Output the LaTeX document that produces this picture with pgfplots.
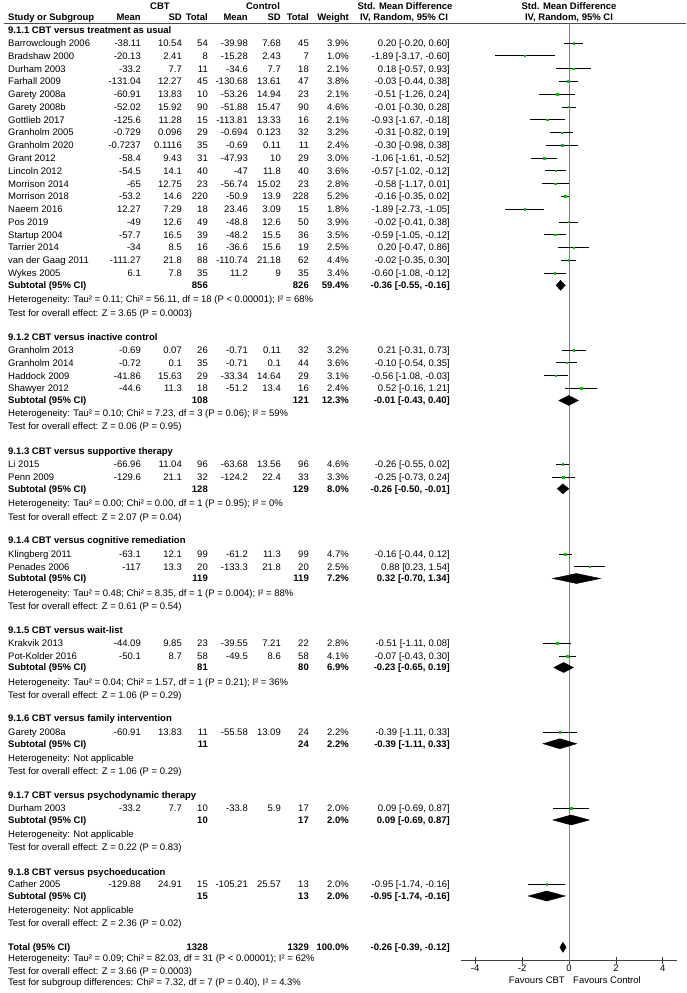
\documentclass[border=0pt]{standalone}
\usepackage{fontspec}
\setmainfont{Liberation Sans}
\usepackage{pgfplots}
\usepackage{pgfplotstable}
\pgfplotsset{compat=1.18}

\definecolor{sqgreen}{RGB}{0,200,0}

% study rows: y (row position, negative downwards), SMD and 95% CI
\pgfplotstableread{
y smd lo hi
-43.0 0.20 -0.20 0.60
-55.8 -1.89 -3.17 -0.60
-68.6 0.18 -0.57 0.93
-81.3 -0.03 -0.44 0.38
-94.1 -0.51 -1.26 0.24
-106.9 -0.01 -0.30 0.28
-119.7 -0.93 -1.67 -0.18
-132.5 -0.31 -0.82 0.19
-145.2 -0.30 -0.98 0.38
-158.0 -1.06 -1.61 -0.52
-170.8 -0.57 -1.02 -0.12
-183.6 -0.58 -1.17 0.01
-196.4 -0.16 -0.35 0.02
-209.1 -1.89 -2.73 -1.05
-221.9 -0.02 -0.41 0.38
-234.7 -0.59 -1.05 -0.12
-247.5 0.20 -0.47 0.86
-260.3 -0.02 -0.35 0.30
-273.0 -0.60 -1.08 -0.12
-350.0 0.21 -0.31 0.73
-362.8 -0.10 -0.54 0.35
-375.6 -0.56 -1.08 -0.03
-388.4 0.52 -0.16 1.21
-464.3 -0.26 -0.55 0.02
-477.0 -0.25 -0.73 0.24
-554.0 -0.16 -0.44 0.12
-566.7 0.88 0.23 1.54
-643.3 -0.51 -1.11 0.08
-656.0 -0.07 -0.43 0.30
-732.0 -0.39 -1.11 0.33
-808.3 0.09 -0.69 0.87
-884.2 -0.95 -1.74 -0.16
}\studies

\newcommand\rowy{}
\newcommand\srow[9]{%
  \def\rowy{#1}%
  \node[txt,anchor=west] at (8,\rowy) {#2};
  \node[txt,anchor=east] at (141,\rowy) {#3};
  \node[txt,anchor=east] at (182,\rowy) {#4};
  \node[txt,anchor=east] at (208,\rowy) {#5};
  \node[txt,anchor=east] at (248,\rowy) {#6};
  \node[txt,anchor=east] at (281,\rowy) {#7};
  \node[txt,anchor=east] at (309,\rowy) {#8};
  \node[txt,anchor=east] at (349,\rowy) {#9};
  \srowci}
\newcommand\srowci[1]{\node[txt,anchor=east] at (450,\rowy) {#1};}
\newcommand\subrow[5]{%
  \node[hd,anchor=west] at (8,#1) {#2};
  \node[hd,anchor=east] at (208,#1) {#3};
  \node[hd,anchor=east] at (309,#1) {#4};
  \subrowb{#1}{#5}}
\newcommand\subrowb[3]{%
  \node[hd,anchor=east] at (349,#1) {#2};
  \node[hd,anchor=east] at (450,#1) {#3};}
\newcommand\grp[2]{\node[hd,anchor=west] at (8,#1) {#2};}
\newcommand\note[2]{\node[txt,anchor=west] at (8,#1) {#2};}

\begin{document}
\begin{tikzpicture}[
  txt/.style={font=\fontsize{9.5}{11}\selectfont, inner sep=0pt, text height=6.8pt, text depth=0pt},
  hd/.style={txt, font=\fontsize{9.5}{11}\selectfont\bfseries}]
\begin{scope}[x=1pt,y=-1pt]
\path[use as bounding box] (0,0) rectangle (686,993);

% header
\node[hd] at (160,6) {CBT};
\node[hd] at (263,6) {Control};
\node[hd] at (405,6) {Std. Mean Difference};
\node[hd] at (569,6) {Std. Mean Difference};
\node[hd,anchor=west] at (8,17) {Study or Subgroup};
\node[hd,anchor=east] at (141,17) {Mean};
\node[hd,anchor=east] at (182,17) {SD};
\node[hd,anchor=east] at (208,17) {Total};
\node[hd,anchor=east] at (248,17) {Mean};
\node[hd,anchor=east] at (281,17) {SD};
\node[hd,anchor=east] at (309,17) {Total};
\node[hd,anchor=east] at (349,17) {Weight};
\node[hd] at (404,17) {IV, Random, 95\% CI};
\node[hd] at (569,17) {IV, Random, 95\% CI};
\draw[black!70, line width=0.8pt] (4,23.3) -- (686,23.3);

% 9.1.1
\grp{30}{9.1.1 CBT versus treatment as usual}
\srow{43.0}{Barrowclough 2006}{-38.11}{10.54}{54}{-39.98}{7.68}{45}{3.9\%}{0.20 [-0.20, 0.60]}
\srow{55.8}{Bradshaw 2000}{-20.13}{2.41}{8}{-15.28}{2.43}{7}{1.0\%}{-1.89 [-3.17, -0.60]}
\srow{68.6}{Durham 2003}{-33.2}{7.7}{11}{-34.6}{7.7}{18}{2.1\%}{0.18 [-0.57, 0.93]}
\srow{81.3}{Farhall 2009}{-131.04}{12.27}{45}{-130.68}{13.61}{47}{3.8\%}{-0.03 [-0.44, 0.38]}
\srow{94.1}{Garety 2008a}{-60.91}{13.83}{10}{-53.26}{14.94}{23}{2.1\%}{-0.51 [-1.26, 0.24]}
\srow{106.9}{Garety 2008b}{-52.02}{15.92}{90}{-51.88}{15.47}{90}{4.6\%}{-0.01 [-0.30, 0.28]}
\srow{119.7}{Gottlieb 2017}{-125.6}{11.28}{15}{-113.81}{13.33}{16}{2.1\%}{-0.93 [-1.67, -0.18]}
\srow{132.5}{Granholm 2005}{-0.729}{0.096}{29}{-0.694}{0.123}{32}{3.2\%}{-0.31 [-0.82, 0.19]}
\srow{145.2}{Granholm 2020}{-0.7237}{0.1116}{35}{-0.69}{0.11}{11}{2.4\%}{-0.30 [-0.98, 0.38]}
\srow{158.0}{Grant 2012}{-58.4}{9.43}{31}{-47.93}{10}{29}{3.0\%}{-1.06 [-1.61, -0.52]}
\srow{170.8}{Lincoln 2012}{-54.5}{14.1}{40}{-47}{11.8}{40}{3.6\%}{-0.57 [-1.02, -0.12]}
\srow{183.6}{Morrison 2014}{-65}{12.75}{23}{-56.74}{15.02}{23}{2.8\%}{-0.58 [-1.17, 0.01]}
\srow{196.4}{Morrison 2018}{-53.2}{14.6}{220}{-50.9}{13.9}{228}{5.2\%}{-0.16 [-0.35, 0.02]}
\srow{209.1}{Naeem 2016}{12.27}{7.29}{18}{23.46}{3.09}{15}{1.8\%}{-1.89 [-2.73, -1.05]}
\srow{221.9}{Pos 2019}{-49}{12.6}{49}{-48.8}{12.6}{50}{3.9\%}{-0.02 [-0.41, 0.38]}
\srow{234.7}{Startup 2004}{-57.7}{16.5}{39}{-48.2}{15.5}{36}{3.5\%}{-0.59 [-1.05, -0.12]}
\srow{247.5}{Tarrier 2014}{-34}{8.5}{16}{-36.6}{15.6}{19}{2.5\%}{0.20 [-0.47, 0.86]}
\srow{260.3}{van der Gaag 2011}{-111.27}{21.8}{88}{-110.74}{21.18}{62}{4.4\%}{-0.02 [-0.35, 0.30]}
\srow{273.0}{Wykes 2005}{6.1}{7.8}{35}{11.2}{9}{35}{3.4\%}{-0.60 [-1.08, -0.12]}
\subrow{285.3}{Subtotal (95\% CI)}{856}{826}{59.4\%}{-0.36 [-0.55, -0.16]}
\note{299.3}{Heterogeneity: Tau² = 0.11; Chi² = 56.11, df = 18 (P < 0.00001); I² = 68\%}
\note{312.7}{Test for overall effect: Z = 3.65 (P = 0.0003)}

% 9.1.2
\grp{336.7}{9.1.2 CBT versus inactive control}
\srow{350.0}{Granholm 2013}{-0.69}{0.07}{26}{-0.71}{0.11}{32}{3.2\%}{0.21 [-0.31, 0.73]}
\srow{362.8}{Granholm 2014}{-0.72}{0.1}{35}{-0.71}{0.1}{44}{3.6\%}{-0.10 [-0.54, 0.35]}
\srow{375.6}{Haddock 2009}{-41.86}{15.63}{29}{-33.34}{14.64}{29}{3.1\%}{-0.56 [-1.08, -0.03]}
\srow{388.4}{Shawyer 2012}{-44.6}{11.3}{18}{-51.2}{13.4}{16}{2.4\%}{0.52 [-0.16, 1.21]}
\subrow{400.5}{Subtotal (95\% CI)}{108}{121}{12.3\%}{-0.01 [-0.43, 0.40]}
\note{413.5}{Heterogeneity: Tau² = 0.10; Chi² = 7.23, df = 3 (P = 0.06); I² = 59\%}
\note{426.5}{Test for overall effect: Z = 0.06 (P = 0.95)}

% 9.1.3
\grp{451}{9.1.3 CBT versus supportive therapy}
\srow{464.3}{Li 2015}{-66.96}{11.04}{96}{-63.68}{13.56}{96}{4.6\%}{-0.26 [-0.55, 0.02]}
\srow{477.0}{Penn 2009}{-129.6}{21.1}{32}{-124.2}{22.4}{33}{3.3\%}{-0.25 [-0.73, 0.24]}
\subrow{488.8}{Subtotal (95\% CI)}{128}{129}{8.0\%}{-0.26 [-0.50, -0.01]}
\note{503.3}{Heterogeneity: Tau² = 0.00; Chi² = 0.00, df = 1 (P = 0.95); I² = 0\%}
\note{516.7}{Test for overall effect: Z = 2.07 (P = 0.04)}

% 9.1.4
\grp{540.5}{9.1.4 CBT versus cognitive remediation}
\srow{554.0}{Klingberg 2011}{-63.1}{12.1}{99}{-61.2}{11.3}{99}{4.7\%}{-0.16 [-0.44, 0.12]}
\srow{566.7}{Penades 2006}{-117}{13.3}{20}{-133.3}{21.8}{20}{2.5\%}{0.88 [0.23, 1.54]}
\subrow{578.5}{Subtotal (95\% CI)}{119}{119}{7.2\%}{0.32 [-0.70, 1.34]}
\note{593}{Heterogeneity: Tau² = 0.48; Chi² = 8.35, df = 1 (P = 0.004); I² = 88\%}
\note{606}{Test for overall effect: Z = 0.61 (P = 0.54)}

% 9.1.5
\grp{630}{9.1.5 CBT versus wait-list}
\srow{643.3}{Krakvik 2013}{-44.09}{9.85}{23}{-39.55}{7.21}{22}{2.8\%}{-0.51 [-1.11, 0.08]}
\srow{656.0}{Pot-Kolder 2016}{-50.1}{8.7}{58}{-49.5}{8.6}{58}{4.1\%}{-0.07 [-0.43, 0.30]}
\subrow{667.5}{Subtotal (95\% CI)}{81}{80}{6.9\%}{-0.23 [-0.65, 0.19]}
\note{681.7}{Heterogeneity: Tau² = 0.04; Chi² = 1.57, df = 1 (P = 0.21); I² = 36\%}
\note{695}{Test for overall effect: Z = 1.06 (P = 0.29)}

% 9.1.6
\grp{718.5}{9.1.6 CBT versus family intervention}
\srow{732.0}{Garety 2008a}{-60.91}{13.83}{11}{-55.58}{13.09}{24}{2.2\%}{-0.39 [-1.11, 0.33]}
\subrow{743.7}{Subtotal (95\% CI)}{11}{24}{2.2\%}{-0.39 [-1.11, 0.33]}
\note{758.3}{Heterogeneity: Not applicable}
\note{770.7}{Test for overall effect: Z = 1.06 (P = 0.29)}

% 9.1.7
\grp{795}{9.1.7 CBT versus psychodynamic therapy}
\srow{808.3}{Durham 2003}{-33.2}{7.7}{10}{-33.8}{5.9}{17}{2.0\%}{0.09 [-0.69, 0.87]}
\subrow{820}{Subtotal (95\% CI)}{10}{17}{2.0\%}{0.09 [-0.69, 0.87]}
\note{834.5}{Heterogeneity: Not applicable}
\note{847.3}{Test for overall effect: Z = 0.22 (P = 0.83)}

% 9.1.8
\grp{871.7}{9.1.8 CBT versus psychoeducation}
\srow{884.2}{Cather 2005}{-129.88}{24.91}{15}{-105.21}{25.57}{13}{2.0\%}{-0.95 [-1.74, -0.16]}
\subrow{896}{Subtotal (95\% CI)}{15}{13}{2.0\%}{-0.95 [-1.74, -0.16]}
\note{910}{Heterogeneity: Not applicable}
\note{923.3}{Test for overall effect: Z = 2.36 (P = 0.02)}

% total
\subrow{947.3}{Total (95\% CI)}{1328}{1329}{100.0\%}{-0.26 [-0.39, -0.12]}
\note{958.5}{Heterogeneity: Tau² = 0.09; Chi² = 82.03, df = 31 (P < 0.00001); I² = 62\%}
\note{970.7}{Test for overall effect: Z = 3.66 (P = 0.0003)}
\note{982.3}{Test for subgroup differences: Chi² = 7.32, df = 7 (P = 0.40), I² = 4.3\%}

\node[txt,anchor=east] at (565,980) {Favours CBT};
\node[txt,anchor=west] at (573,980) {Favours Control};
\end{scope}

\begin{axis}[at={(461.1pt,-960.7pt)}, anchor=south west,
  scale only axis, width=215.8pt, height=937.4pt,
  xmin=-4.6, xmax=4.6, ymin=-960.7, ymax=-23.3,
  axis x line*=bottom, axis y line=none,
  x axis line style={black!75, line width=0.8pt, -},
  xtick={-4,-2,0,2,4}, tick align=center, major tick length=6.6pt,
  xtick style={black!75, line width=0.8pt},
  ticklabel style={font=\fontsize{9.5}{11}\selectfont, inner sep=1pt},
  /pgf/number format/assume math mode=true,
  clip=false]
\addplot[black!50, line width=0.9pt] coordinates {(0,-23.3) (0,-960.7)};
\addplot[only marks, mark=square*, mark size=0.75pt, color=sqgreen,
  error bars/.cd, x dir=both, x explicit, error mark=none,
  error bar style={black, line width=0.8pt}]
  table[x=smd, y=y, x error plus expr=\thisrow{hi}-\thisrow{smd},
        x error minus expr=\thisrow{smd}-\thisrow{lo}] {\studies};
% subtotal and total diamonds
\addplot[fill=black, draw=black] coordinates {(-0.55,-285.3) (-0.36,-280.3) (-0.16,-285.3) (-0.36,-290.3)} -- cycle;
\addplot[fill=black, draw=black] coordinates {(-0.43,-400.5) (-0.01,-395.5) (0.40,-400.5) (-0.01,-405.5)} -- cycle;
\addplot[fill=black, draw=black] coordinates {(-0.50,-488.8) (-0.26,-483.8) (-0.01,-488.8) (-0.26,-493.8)} -- cycle;
\addplot[fill=black, draw=black] coordinates {(-0.70,-578.5) (0.32,-573.5) (1.34,-578.5) (0.32,-583.5)} -- cycle;
\addplot[fill=black, draw=black] coordinates {(-0.65,-667.5) (-0.23,-662.5) (0.19,-667.5) (-0.23,-672.5)} -- cycle;
\addplot[fill=black, draw=black] coordinates {(-1.11,-743.7) (-0.39,-738.7) (0.33,-743.7) (-0.39,-748.7)} -- cycle;
\addplot[fill=black, draw=black] coordinates {(-0.69,-820) (0.09,-815) (0.87,-820) (0.09,-825)} -- cycle;
\addplot[fill=black, draw=black] coordinates {(-1.74,-896) (-0.95,-891) (-0.16,-896) (-0.95,-901)} -- cycle;
\addplot[fill=black, draw=black] coordinates {(-0.39,-947.3) (-0.26,-942.3) (-0.12,-947.3) (-0.26,-952.3)} -- cycle;
\end{axis}
\end{tikzpicture}
\end{document}
